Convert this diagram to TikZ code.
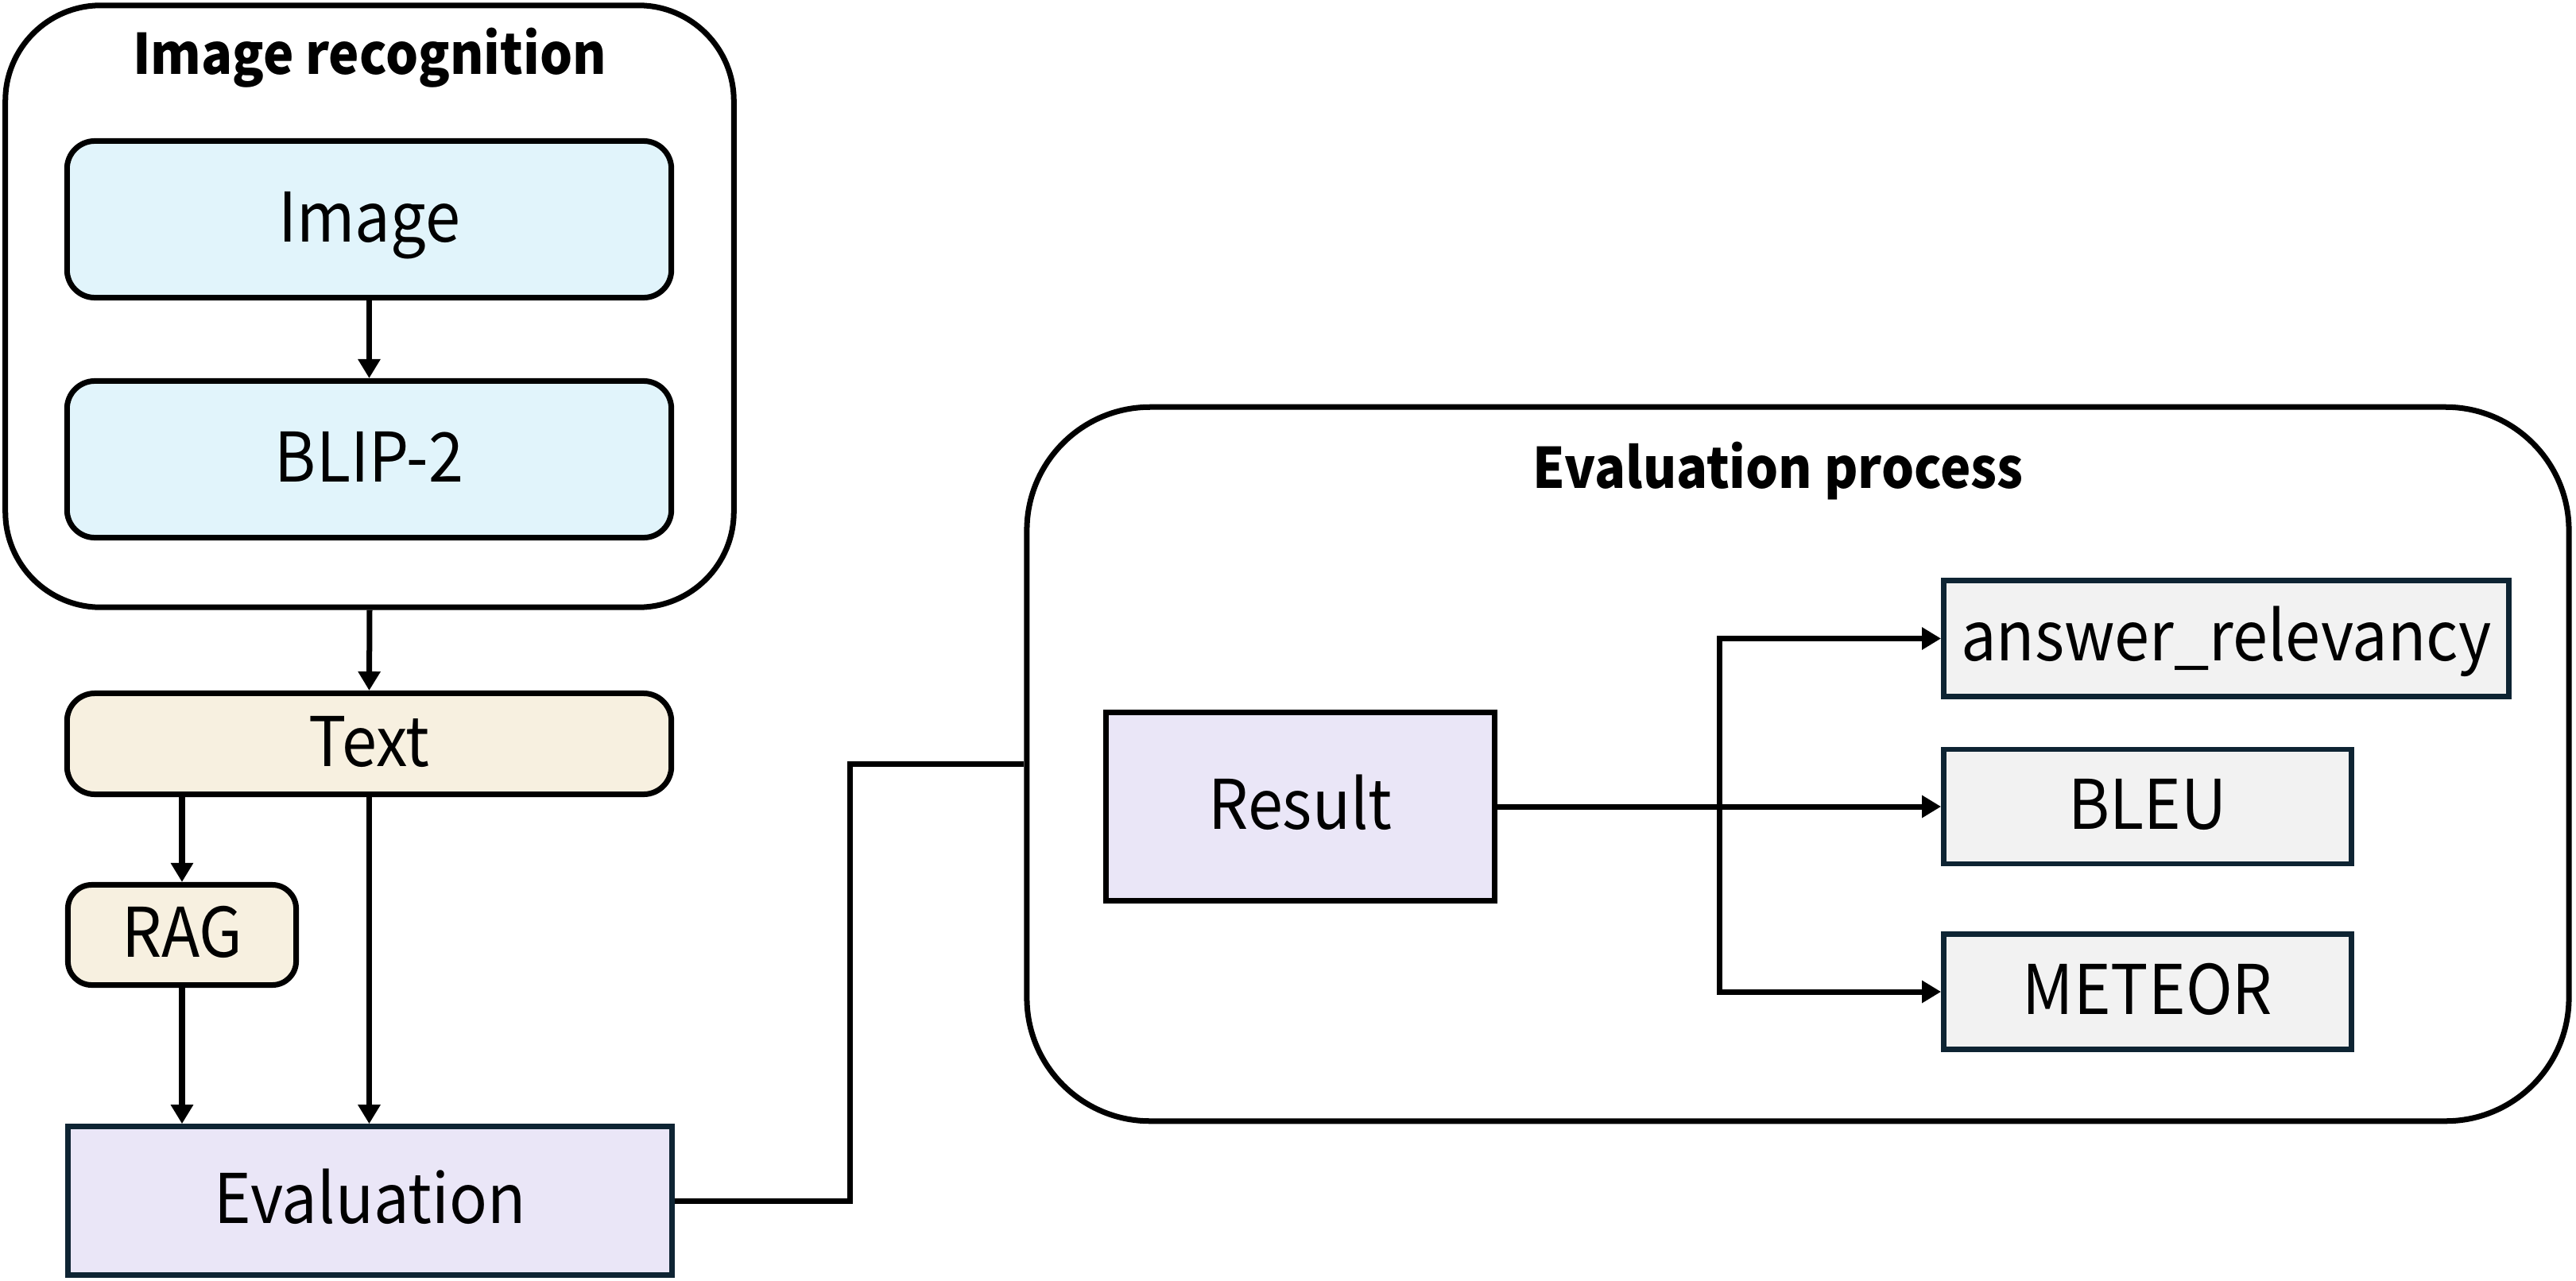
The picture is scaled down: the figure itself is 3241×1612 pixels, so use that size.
\documentclass[tikz,border=0pt]{standalone}
\usepackage{fontspec}
\setmainfont[FakeStretch=0.92]{Noto Sans CJK KR}
\usetikzlibrary{arrows.meta}

\definecolor{inkline}{HTML}{000000}
\definecolor{navy}{HTML}{0E2433}
\definecolor{skyfill}{HTML}{E1F4FB}
\definecolor{creamfill}{HTML}{F7F0E0}
\definecolor{lilacfill}{HTML}{EAE6F7}
\definecolor{greyfill}{HTML}{F2F2F2}

\tikzset{
  group/.style={draw=inkline, line width=0.07cm, fill=white, rounded corners=#1},
  title/.style={font=\fontsize{20pt}{24pt}\selectfont\bfseries, text height=13.2pt, text depth=0pt, inner sep=0pt},
  label/.style={font=\fontsize{24.5pt}{28pt}\selectfont, text height=16.1pt, text depth=0pt, inner sep=0pt},
  roundbox/.style={label, draw=inkline, line width=0.07cm, rounded corners=0.35cm},
  squarebox/.style={label, draw=navy, line width=0.065cm},
  arr/.style={line width=0.07cm, -{Triangle[length=0.24cm, width=0.27cm]}},
  link/.style={line width=0.07cm},
}

\begin{document}
\begin{tikzpicture}[x=0.01cm, y=-0.01cm]
\useasboundingbox (0,0) rectangle (3241,1612);

% left column: image recognition group
\node[group=1.2cm, minimum width=9.16cm, minimum height=7.57cm] (recog) at (465,385.5) {};
\node[title] (recogtitle) at (465,70) {Image recognition};
\node[roundbox, fill=skyfill, minimum width=7.6cm, minimum height=1.97cm] (img) at (464.5,276) {Image};
\node[roundbox, fill=skyfill, minimum width=7.6cm, minimum height=1.97cm] (blip) at (464.5,578) {BLIP-2};

\node[roundbox, fill=creamfill, minimum width=7.6cm, minimum height=1.27cm] (text) at (464.5,936) {Text};
\node[roundbox, fill=creamfill, minimum width=2.87cm, minimum height=1.26cm, rounded corners=0.3cm] (rag) at (229,1176.5) {RAG};
\node[squarebox, fill=lilacfill, minimum width=7.6cm, minimum height=1.87cm] (eval) at (465.5,1511) {Evaluation};

\draw[arr] (img) -- (blip);
\draw[arr] (recog.south) -- (text.north);
\draw[arr] (rag.north |- text.south) -- (rag.north);
\draw[arr] (rag.south) -- (rag.south |- eval.north);
\draw[arr] (text.south) -- (text.south |- eval.north);

% right side: evaluation process group
\node[group=1.55cm, minimum width=19.39cm, minimum height=8.98cm] (evalproc) at (2262,961.5) {};
\node[title] (evaltitle) at (2237,591) {Evaluation process};
\node[squarebox, draw=inkline, fill=lilacfill, minimum width=4.89cm, minimum height=2.37cm] (result) at (1636,1015) {Result};
\node[squarebox, fill=greyfill, minimum width=7.11cm, minimum height=1.46cm] (ans) at (2801,803.5) {answer\_relevancy};
\node[squarebox, fill=greyfill, minimum width=5.13cm, minimum height=1.44cm] (bleu) at (2702,1015) {BLEU};
\node[squarebox, fill=greyfill, minimum width=5.13cm, minimum height=1.45cm] (meteor) at (2702,1248) {METEOR};

% evaluation feeds the process group
\coordinate (bend) at (1069,961.5);
\draw[link] (eval.east) -- (eval.east -| bend) -- (bend |- evalproc.west) -- (evalproc.west);

% result fans out to the metrics
\coordinate (fork) at (2163,1015);
\draw[arr] (result.east) -- (bleu.west);
\draw[arr] (fork |- meteor.west) |- (ans.west);
\draw[arr] (fork |- ans.west) |- (meteor.west);
\end{tikzpicture}
\end{document}
